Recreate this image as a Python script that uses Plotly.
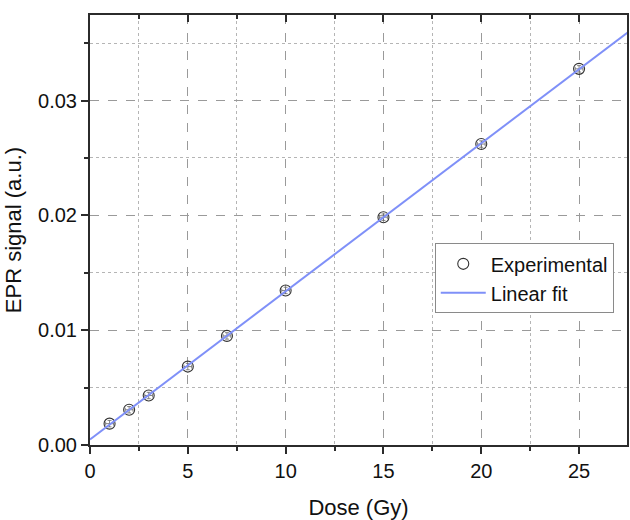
import numpy as np
import plotly.graph_objects as go

dose = [1, 2, 3, 5, 7, 10, 15, 20, 25]
epr_signal = [0.00186, 0.00307, 0.00431, 0.00683, 0.00950, 0.01346, 0.01984, 0.02621, 0.03276]
fit_x = [0, 27.6]

slope, intercept = np.polyfit(dose, epr_signal, 1)
fit_y = [intercept + slope * x for x in fit_x]

FONT = "Liberation Sans, Arial, sans-serif"
AX = "#2b2b2b"

fig = go.Figure()
fig.add_trace(go.Scatter(
    x=dose, y=epr_signal, mode="markers", name="Experimental",
    marker=dict(symbol="circle-open", size=11, color="#333333", line=dict(width=1.1, color="#333333")),
    error_y=dict(type="constant", value=0.00028, thickness=0.8, width=2, color="#666666"),
    error_x=dict(type="constant", value=0.2, thickness=0.8, width=2, color="#666666"),
))
fig.add_trace(go.Scatter(
    x=fit_x, y=fit_y, mode="lines", name="Linear fit",
    line=dict(color="#7f90f8", width=2),
))
# invisible trace on top axis to draw inward ticks on the top border
fig.add_trace(go.Scatter(x=[0], y=[0], xaxis="x2", mode="markers",
                         marker=dict(opacity=0), showlegend=False, hoverinfo="skip"))

fig.update_layout(
    width=630, height=520,
    margin=dict(l=90, r=1, t=15, b=70),
    paper_bgcolor="white", plot_bgcolor="white",
    font=dict(family=FONT, color="#111111"),
    showlegend=True,
    legend=dict(x=0.642, y=0.469, xanchor="left", yanchor="top",
                bordercolor="#8a8a8a", borderwidth=1, bgcolor="white",
                itemwidth=45,
                font=dict(size=20, family=FONT), tracegroupgap=0),
    xaxis=dict(
        range=[0, 27.45], dtick=5, tick0=0,
        showline=True, linecolor=AX, linewidth=2, mirror=True,
        ticks="outside", ticklen=7, tickwidth=2, tickcolor=AX,
        tickfont=dict(size=20, family=FONT),
        showgrid=True, gridcolor="#9a9a9a", gridwidth=1, griddash="dash",
        zeroline=False,
        minor=dict(dtick=2.5, tick0=0, ticks="outside", ticklen=4, tickwidth=2, tickcolor=AX,
                   showgrid=True, gridcolor="#b5b5b5", gridwidth=1, griddash="dot"),
        title=dict(text="Dose (Gy)", font=dict(size=22, family=FONT), standoff=22),
    ),
    xaxis2=dict(
        overlaying="x", side="top", matches="x", range=[0, 27.45], dtick=5, tick0=0,
        ticks="inside", ticklen=7, tickwidth=2, tickcolor=AX, showticklabels=False,
        showgrid=False, zeroline=False, showline=False,
        minor=dict(dtick=2.5, tick0=0, ticks="inside", ticklen=4, tickwidth=2, tickcolor=AX),
    ),
    yaxis=dict(
        range=[0, 0.03745], dtick=0.01, tick0=0, tickformat=".2f",
        showline=True, linecolor=AX, linewidth=2, mirror=True,
        ticks="outside", ticklen=7, tickwidth=2, tickcolor=AX,
        tickfont=dict(size=20, family=FONT),
        showgrid=True, gridcolor="#9a9a9a", gridwidth=1, griddash="dash",
        zeroline=False,
        minor=dict(dtick=0.005, tick0=0, ticks="outside", ticklen=4, tickwidth=2, tickcolor=AX,
                   showgrid=True, gridcolor="#b5b5b5", gridwidth=1, griddash="dot"),
        title=dict(text="EPR signal (a.u.)", font=dict(size=22, family=FONT), standoff=10),
    ),
)

fig.write_html("out.html")
